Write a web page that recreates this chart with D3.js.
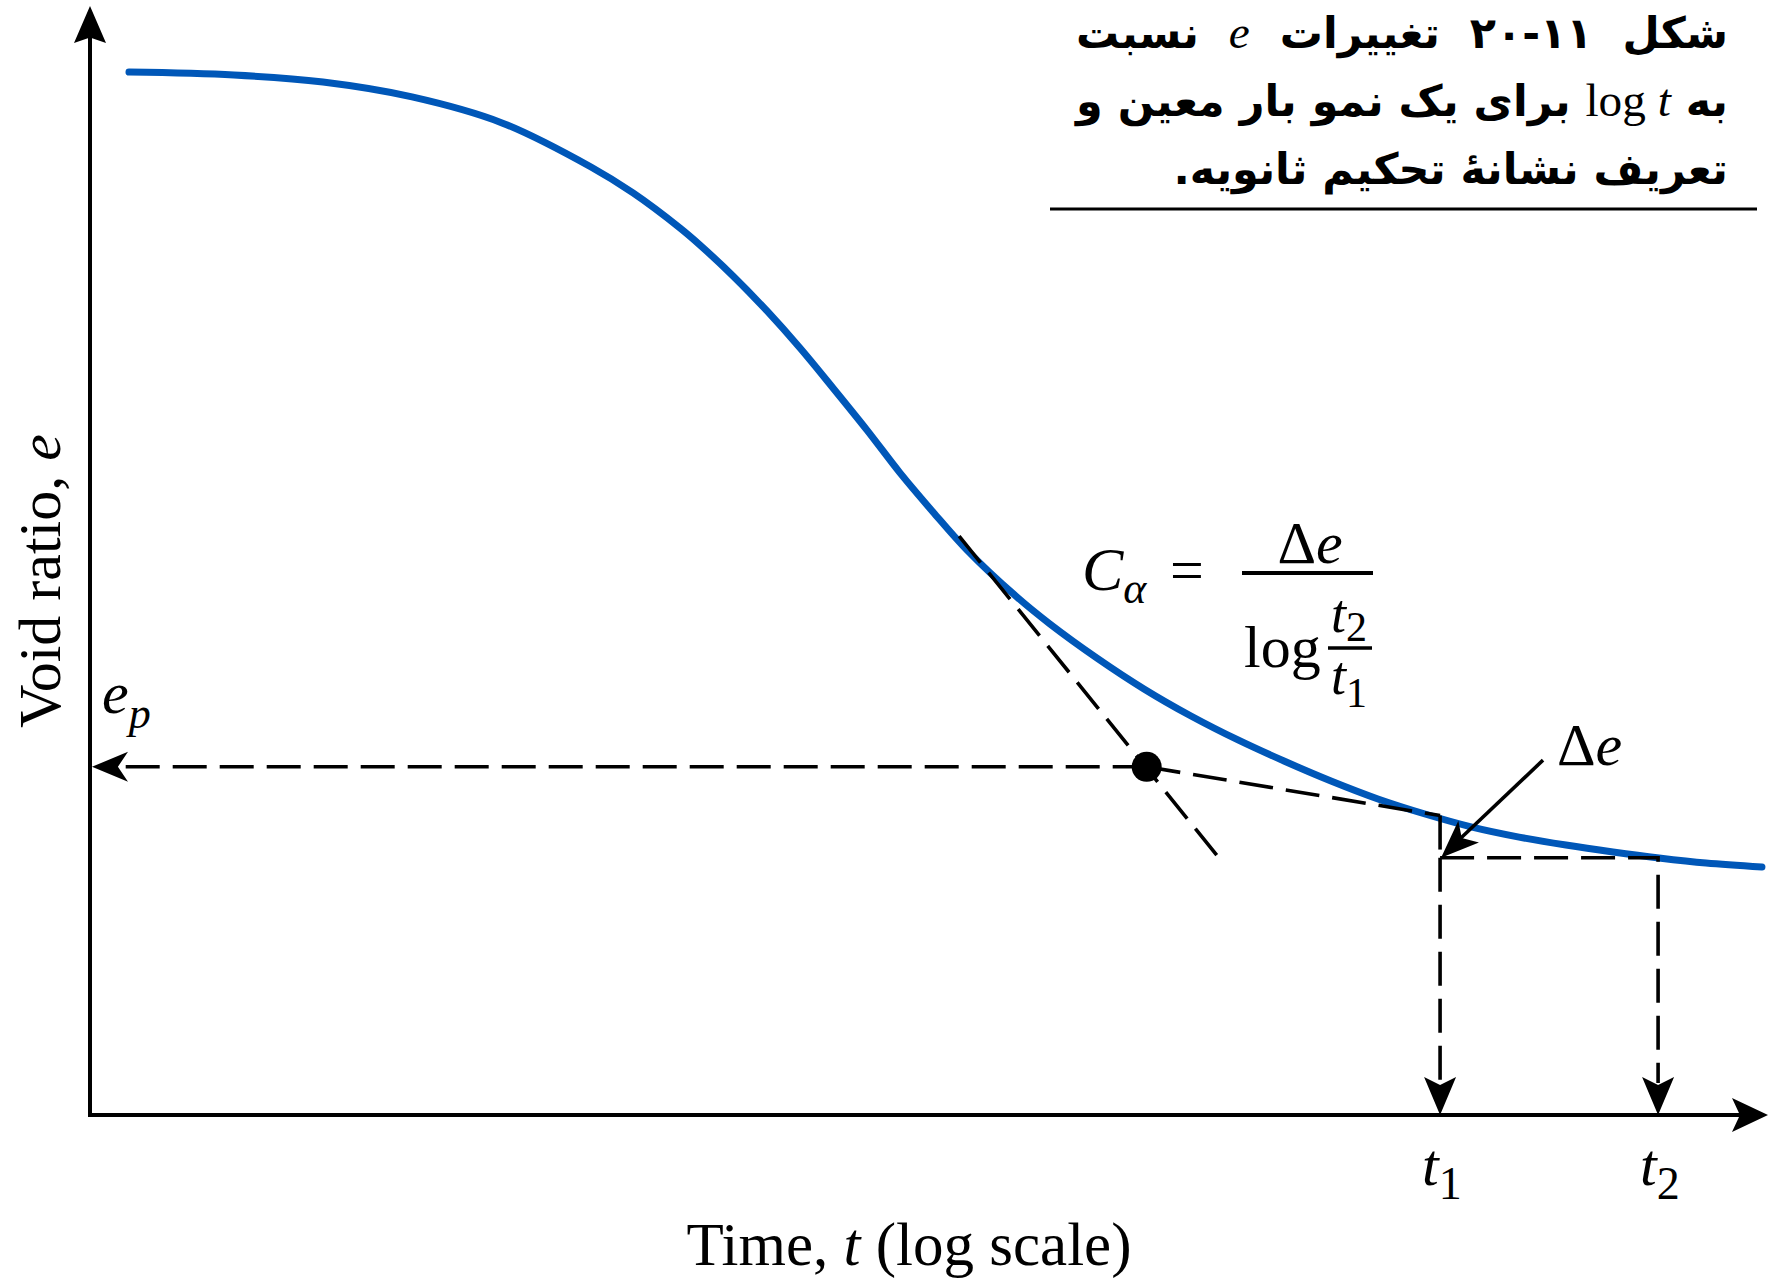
<!DOCTYPE html>
<html>
<head>
<meta charset="utf-8">
<script src="https://cdn.jsdelivr.net/npm/d3@7"></script>
<style>
html,body{margin:0;padding:0;background:#fff;}
svg{display:block;}
</style>
</head>
<body>
<svg id="chart" width="1785" height="1283"></svg>
<script>
// ---------------- data ----------------
// Time (log scale, arbitrary units) and void ratio of the consolidation curve
const timeValues = [0.1351,0.2293,0.3591,0.5624,0.8851,1.386,1.713,2.170,2.401,2.835,3.365,3.974,4.692,5.569,6.577,7.767,9.218,11.86,14.00,17.75,22.49,28.50,36.12,45.54,57.71,73.12,92.68,117.5,148.9,188.6,239.0,301.4,382.0,506.3];
const voidRatios = [1.0702,1.0689,1.0657,1.0590,1.0473,1.0274,1.0157,0.9999,0.9922,0.9783,0.9625,0.9458,0.9278,0.9088,0.8895,0.8719,0.8547,0.8335,0.8214,0.8060,0.7921,0.7799,0.7691,0.7596,0.7506,0.7425,0.7357,0.7298,0.7253,0.7217,0.7186,0.7159,0.7136,0.7118];
// axis extents
const timeExtent = [0.111, 522];
const voidExtent = [0.6, 1.1];
// primary-consolidation end point (intersection of the two tangents)
const primaryPoint = [22.8, 0.757];
// steep tangent (primary) and flat tangent (secondary)
const steepTangentT = [8.86, 32.5];
const steepTangentE = [0.861, 0.717];
const flatTangentT = [22.8, 100];
const flatTangentE = [0.757, 0.735];
// marked times t1, t2 and the void ratios used for Δe
const markTimes = [100, 300];
const markVoids = [0.735, 0.716];
const markLabels = ["1", "2"];
// Δe pointer arrow start
const deltaArrowStart = [168, 0.760];
// title (Persian caption)
const titleLines = [
  [{t:"شکل ۱۱-۲۰ تغییرات "},{t:"e",latin:true,italic:true},{t:" نسبت"}],
  [{t:"به "},{t:"log ",latin:true},{t:"t",latin:true,italic:true},{t:" برای یک نمو بار معین و"}],
  [{t:"تعریف نشانهٔ تحکیم ثانویه."}]
];

// ---------------- drawing ----------------
const svg = d3.select('#chart');
const serif = "'Liberation Serif','Times New Roman',serif";
const x = d3.scaleLog().domain(timeExtent).range([90, 1768]);
const y = d3.scaleLinear().domain(voidExtent).range([1115, 6]);
const x0 = x(timeExtent[0]), y0 = y(voidExtent[0]);
const xTip = x(timeExtent[1]), yTip = y(voidExtent[1]);

function arrowHead(tx, ty, dx, dy, L, W, notch){
  const n = Math.hypot(dx, dy); dx/=n; dy/=n;
  const bx = tx - dx*L, by = ty - dy*L;
  const px = -dy, py = dx;
  const nx = tx - dx*L*notch, ny = ty - dy*L*notch;
  return `M${tx},${ty}L${bx+px*W},${by+py*W}L${nx},${ny}L${bx-px*W},${by-py*W}Z`;
}

// axes
svg.append('line').attr('x1', x0).attr('y1', y0+2).attr('x2', x0).attr('y2', yTip+30)
  .attr('stroke','#000').attr('stroke-width',4);
svg.append('path').attr('d', arrowHead(x0, yTip, 0, -1, 37, 16, 0.85)).attr('fill','#000');
svg.append('line').attr('x1', x0-2).attr('y1', y0).attr('x2', xTip-28).attr('y2', y0)
  .attr('stroke','#000').attr('stroke-width',4);
svg.append('path').attr('d', arrowHead(xTip, y0, 1, 0, 36, 17, 0.78)).attr('fill','#000');

// consolidation curve
const pts = d3.zip(timeValues, voidRatios);
svg.append('path').datum(pts)
  .attr('d', d3.line().x(d=>x(d[0])).y(d=>y(d[1])).curve(d3.curveCatmullRom.alpha(0.5)))
  .attr('fill','none').attr('stroke','#0057b8').attr('stroke-width',7).attr('stroke-linecap','round');

const dash = '34,13';
function dashed(d){ return svg.append('path').attr('d', d).attr('fill','none').attr('stroke','#000')
  .attr('stroke-width',3.6).attr('stroke-dasharray', dash); }

// steep tangent
dashed(`M${x(steepTangentT[0])},${y(steepTangentE[0])}L${x(steepTangentT[1])},${y(steepTangentE[1])}`);
// flat tangent
dashed(`M${x(flatTangentT[0])},${y(flatTangentE[0])}L${x(flatTangentT[1])},${y(flatTangentE[1])}`);
// e_p horizontal to the y-axis
const px = x(primaryPoint[0]), py = y(primaryPoint[1]);
dashed(`M${px},${py}H${x0+26}`);
svg.append('path').attr('d', arrowHead(x0+2, py, -1, 0, 36, 15, 0.72)).attr('fill','#000');
// t1 / t2 construction
const xt1 = x(markTimes[0]), xt2 = x(markTimes[1]);
const ye1 = y(markVoids[0]), ye2 = y(markVoids[1]);
dashed(`M${xt1},${ye1}V${ye2}`);
dashed(`M${xt1},${ye2}V${y0-32}`);
dashed(`M${xt1},${ye2}H${xt2}V${y0-32}`);
svg.append('path').attr('d', arrowHead(xt1, y0, 0, 1, 38, 16, 0.79)).attr('fill','#000');
svg.append('path').attr('d', arrowHead(xt2, y0, 0, 1, 38, 16, 0.79)).attr('fill','#000');
// dot
svg.append('circle').attr('cx', px).attr('cy', py).attr('r', 15).attr('fill','#000');
// Δe pointer
{
  const sx = x(deltaArrowStart[0]), sy = y(deltaArrowStart[1]);
  const dx = xt1 - sx, dy = ye2 - sy, n = Math.hypot(dx, dy);
  svg.append('line').attr('x1', sx).attr('y1', sy)
    .attr('x2', xt1 - dx/n*28).attr('y2', ye2 - dy/n*28)
    .attr('stroke','#000').attr('stroke-width',3.6);
  svg.append('path').attr('d', arrowHead(xt1+1, ye2, dx, dy, 38, 15, 0.75)).attr('fill','#000');
}

// ---------------- texts ----------------
function txt(xp, yp, size, anchor){
  return svg.append('text').attr('x', xp).attr('y', yp).attr('font-family', serif)
    .attr('font-size', size).attr('text-anchor', anchor || 'start').attr('fill','#000');
}
// axis titles
{
  const t = svg.append('text').attr('transform', `translate(60,581) rotate(-90)`)
    .attr('font-family', serif).attr('font-size', 60).attr('text-anchor','middle');
  t.append('tspan').text('Void ratio, ');
  t.append('tspan').attr('font-style','italic').text('e');
}
{
  const t = txt(909, 1265, 61, 'middle');
  t.append('tspan').text('Time, ');
  t.append('tspan').attr('font-style','italic').text('t');
  t.append('tspan').text(' (log scale)');
}
// e_p
{
  const t = txt(102, 713, 60);
  t.append('tspan').attr('font-style','italic').text('e');
  t.append('tspan').attr('font-style','italic').attr('font-size',44).attr('dy',15).text('p');
}
// t1, t2 labels
markTimes.forEach((tv, i) => {
  const t = txt(x(tv) - 18, 1185, 60);
  t.append('tspan').attr('font-style','italic').text('t');
  t.append('tspan').attr('font-size',46).attr('dy',14).text(markLabels[i]);
});
// Δe label
{
  const t = txt(1557, 765, 60);
  t.append('tspan').text('Δ');
  t.append('tspan').attr('font-style','italic').text('e');
}
// equation
{
  const c = txt(1082, 590, 62);
  c.append('tspan').attr('font-style','italic').text('C');
  c.append('tspan').attr('font-style','italic').attr('font-size',44).attr('dy',13).text('α');
  txt(1187, 590, 60, 'middle').text('=');
  svg.append('line').attr('x1',1242).attr('x2',1373).attr('y1',573).attr('y2',573).attr('stroke','#000').attr('stroke-width',4);
  const n = txt(1310, 563, 60, 'middle');
  n.append('tspan').text('Δ');
  n.append('tspan').attr('font-style','italic').text('e');
  txt(1244, 667, 60).text('log');
  svg.append('line').attr('x1',1328).attr('x2',1372).attr('y1',648).attr('y2',648).attr('stroke','#000').attr('stroke-width',3.6);
  const a = txt(1331, 632, 54);
  a.append('tspan').attr('font-style','italic').text('t');
  a.append('tspan').attr('font-size',42).attr('dy',9).text('2');
  const b = txt(1331, 694, 54);
  b.append('tspan').attr('font-style','italic').text('t');
  b.append('tspan').attr('font-size',42).attr('dy',13).text('1');
}

// Persian caption
{
  const right = 1728, fullWidth = 652;
  const baselines = [48, 116, 184];
  let fs = 44;
  const nodes = titleLines.map((segs, i) => {
    const t = svg.append('text').attr('x', right).attr('y', baselines[i])
      .attr('direction','rtl').attr('text-anchor','start')
      .attr('font-family',"'DejaVu Sans',sans-serif").attr('font-weight','bold').attr('font-size', fs);
    segs.forEach(s => {
      const ts = t.append('tspan').text(s.t);
      if (s.latin) ts.attr('font-family', serif).attr('font-weight','normal').attr('font-size', fs*1.1).attr('class','lat');
      if (s.italic) ts.attr('font-style','italic');
    });
    return t;
  });
  // keep the widest line inside the caption width
  const maxW = d3.max(nodes, t => t.node().getComputedTextLength());
  if (maxW > fullWidth) {
    fs = fs * fullWidth / maxW;
    nodes.forEach(t => { t.attr('font-size', fs); t.selectAll('.lat').attr('font-size', fs*1.1); });
  }
  [0,1].forEach(i => {
    const t = nodes[i];
    const w = t.node().getComputedTextLength();
    const spaces = titleLines[i].map(s=>s.t).join('').split(' ').length - 1;
    t.attr('word-spacing', Math.max(0, (fullWidth - w) / spaces));
  });
  svg.append('line').attr('x1',1050).attr('x2',1757).attr('y1',209).attr('y2',209).attr('stroke','#000').attr('stroke-width',3);
}
</script>
</body>
</html>
